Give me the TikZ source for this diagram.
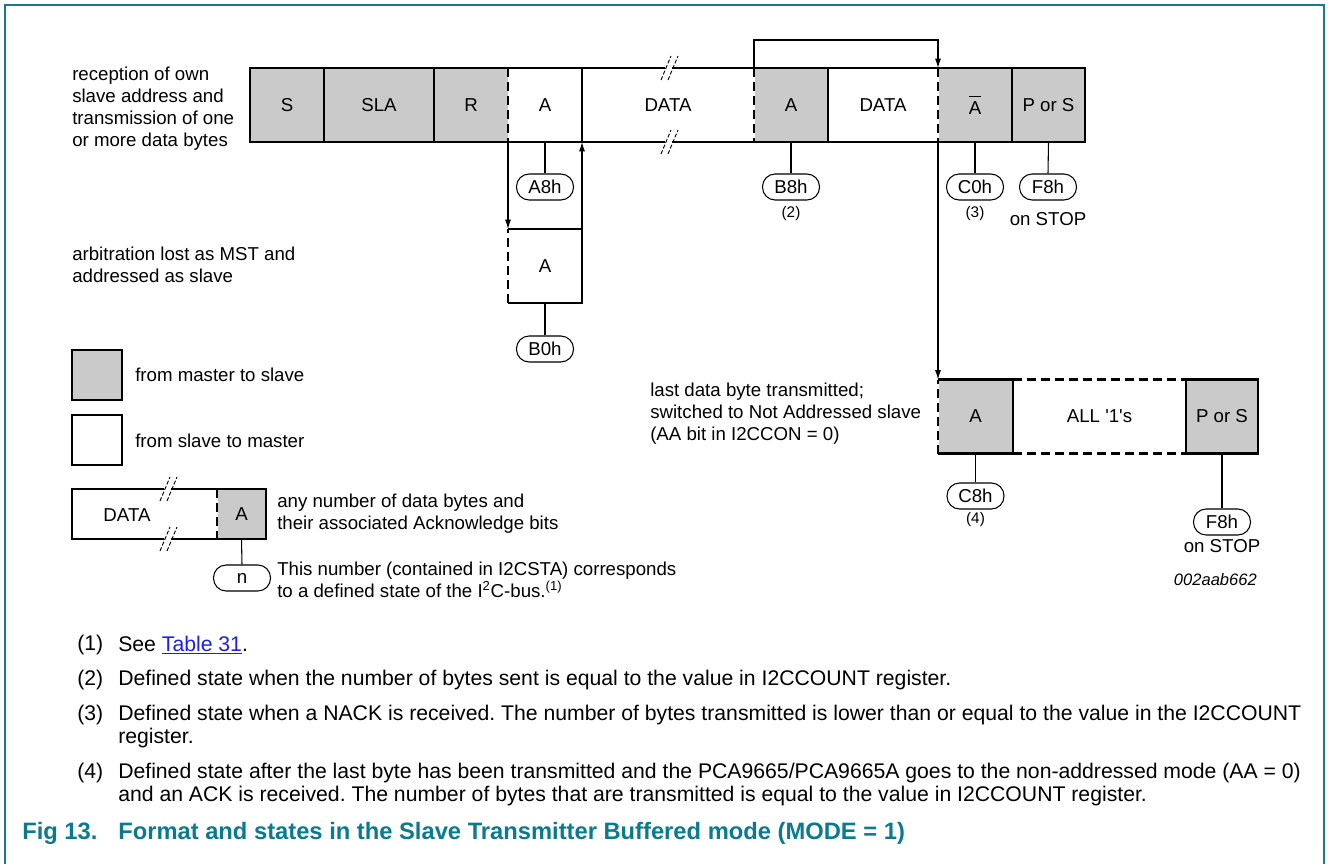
\documentclass[tikz,border=0pt]{standalone}
\usepackage{fontspec}
\setmainfont{Liberation Sans}[Ligatures=TeXOff]
\usepackage{xcolor}
\usepackage{tikz}
\usetikzlibrary{positioning, calc, arrows.meta}
\frenchspacing

\newcommand{\diag}{\fontsize{14}{16.5}\selectfont}
\newcommand{\nota}{\fontsize{11.5}{13}\selectfont}
\newcommand{\rodape}{\fontsize{15.9}{17.25}\selectfont}
% marca de quebra (//) sobre uma borda horizontal
\newcommand{\brkmark}[2]{%
  \draw[white, line width=3pt] (#1-3,#2) -- (#1+4,#2);
  \draw[line width=0.7pt, dash pattern=on 3pt off 1.5pt] (#1-7,#2+12) -- (#1+3,#2-12);
  \draw[line width=0.7pt, dash pattern=on 3pt off 1.5pt] (#1,#2+12) -- (#1+10,#2-12);
}

\begin{document}
\begin{tikzpicture}[x=0.75pt, y=-0.75pt, >={Latex[length=7pt, width=4.5pt]},
  gbox/.style={fill=cinza, minimum height=55.5pt, inner sep=0pt, outer sep=0pt, font=\diag},
  wbox/.style={fill=white, minimum height=55.5pt, inner sep=0pt, outer sep=0pt, font=\diag},
  estado/.style={draw, line width=0.8pt, rounded corners=9.5pt, minimum width=42.75pt, minimum height=19.5pt, inner sep=0pt, font=\diag},
  borda/.style={line width=2.1pt},
  tracejado/.style={line width=2.1pt, dash pattern=on 6.5pt off 4pt, preaction={draw=white, solid}},
  fio/.style={line width=0.8pt},
  txt/.style={font=\diag, align=left, inner sep=0pt, anchor=west}]
% --- CORES ---
\definecolor{cinza}{HTML}{CACACA}
\definecolor{moldura}{HTML}{1A7A8C}
\definecolor{legenda}{HTML}{0A7A8E}
\definecolor{link}{HTML}{1F1FE0}

\useasboundingbox (0,0) rectangle (1328,864);
\draw[moldura, line width=1.5pt] (5,864) -- (5,5) -- (1324,5) -- (1324,864);

% LAYER 1: Quadro principal (recepcao do endereco + dados)
\node[txt] at (72,109) {reception of own\\slave address and\\transmission of one\\or more data bytes};
\node[gbox, minimum width=55.5pt] (s) at (287,105) {S};
\node[gbox, minimum width=82.5pt, right=0pt of s] (sla) {SLA};
\node[gbox, minimum width=55.5pt, right=0pt of sla] (r) {R};
\node[wbox, minimum width=55.5pt, right=0pt of r] (a) {A};
\node[wbox, minimum width=129pt, right=0pt of a] (data) {DATA};
\node[gbox, minimum width=55.5pt, right=0pt of data] (ack) {A};
\node[wbox, minimum width=82.5pt, right=0pt of ack] (data2) {DATA};
\node[gbox, minimum width=55.5pt, right=0pt of data2] (nack) {$\overline{\mbox{A}\rule{0pt}{11.8pt}}$};
\node[gbox, minimum width=54.75pt, right=0pt of nack] (ps) {P or S};
\draw[borda] (s.north west) rectangle (ps.south east);
\draw[borda] (s.north east) -- (s.south east);
\draw[borda] (sla.north east) -- (sla.south east);
\draw[borda] (a.north east) -- (a.south east);
\draw[borda] (ack.north east) -- (ack.south east);
\draw[borda] (nack.north east) -- (nack.south east);
\draw[tracejado] (r.north east) -- (r.south east);
\draw[tracejado] (data.north east) -- (data.south east);
\draw[tracejado] (data2.north east) -- (data2.south east);
\brkmark{668}{68}
\brkmark{668}{142}

% LAYER 2: Estados (ovais)
\node[estado] (a8h) at (545,187) {A8h};
\node[estado] (b8h) at (791,187) {B8h};
\node[estado] (c0h) at (975,187) {C0h};
\node[estado] (f8h) at (1048,187) {F8h};
\draw[fio] (a.south) -- (a8h.north);
\draw[fio] (ack.south) -- (b8h.north);
\draw[fio] (nack.south) -- (c0h.north);
\draw[fio] (ps.south) -- (f8h.north);
\node[font=\nota] at (791,214) {(2)};
\node[font=\nota] at (975,214) {(3)};
\node[font=\diag] at (1048,219) {on STOP};

% LAYER 3: Arbitragem perdida
\node[txt] at (72,265) {arbitration lost as MST and\\addressed as slave};
\node[wbox, minimum width=55.5pt] (la) at (545,266) {A};
\draw[borda] (la.north west) -- (la.north east) -- (la.south east) -- (la.south west);
\draw[tracejado] (la.south west) -- (la.north west);
\draw[fio, ->] (a.south west) -- (la.north west);
\draw[fio, ->] (la.north east) -- (a.south east);
\node[estado] (b0h) at (545,349) {B0h};
\draw[fio] (la.south) -- (b0h.north);

% LAYER 4: Ultimo byte transmitido
\draw[fio, ->] (ack.north west) -- ++(0,-28) -| (nack.north west);
\node[txt] at (650,414) {last data byte transmitted;\\switched to Not Addressed slave\\(AA bit in I2CCON = 0)};
\node[gbox, minimum width=56.25pt] (la2) at (975.5,416.5) {A};
\node[wbox, minimum width=129.75pt, right=0pt of la2] (all) {ALL '1's};
\node[gbox, minimum width=54pt, right=0pt of all] (ps2) {P or S};
\draw[borda] (la2.north west) -- (la2.north east) -- (la2.south east) -- (la2.south west);
\draw[tracejado] (la2.south west) -- (la2.north west);
\draw[tracejado] (la2.north east) -- (ps2.north west);
\draw[tracejado] (la2.south east) -- (ps2.south west);
\draw[borda] (ps2.north west) rectangle (ps2.south east);
\draw[fio, ->] (nack.south west) -- (la2.north west);
\node[estado] (c8h) at (975.5,496) {C8h};
\node[estado] (f8h2) at (1222,522) {F8h};
\draw[fio] (la2.south) -- (c8h.north);
\draw[fio] (ps2.south) -- (f8h2.north);
\node[font=\nota] at (975.5,520) {(4)};
\node[font=\diag] at (1222,546) {on STOP};

% LAYER 5: Legenda
\node[gbox, draw, borda, minimum width=37.5pt, minimum height=37.5pt] (lg1) at (97,375) {};
\node[txt] at (135,375) {from master to slave};
\node[wbox, draw, borda, minimum width=37.5pt, minimum height=37.5pt] (lg2) at (97,440) {};
\node[txt] at (135,441) {from slave to master};
\node[wbox, minimum width=108.75pt, minimum height=37.5pt] (ldata) at (144.5,514) {};
\node[font=\diag] at (127,515) {DATA};
\node[gbox, minimum width=36.75pt, minimum height=37.5pt, right=0pt of ldata] (lack) {A};
\draw[borda] (ldata.north west) rectangle (lack.south east);
\draw[tracejado] (ldata.north east) -- (ldata.south east);
\brkmark{167}{489}
\brkmark{167}{539}
\node[txt] at (277,514) {any number of data bytes and\\their associated Acknowledge bits};
\node[estado] (n) at (242,578) {n};
\draw[fio] (lack.south) -- (n.north);
\node[txt] at (277,580) {This number (contained in I2CSTA) corresponds\\to a defined state of the I\textsuperscript{2}C-bus.\textsuperscript{(1)}};
\node[font=\fontsize{12.4}{14}\selectfont\itshape, anchor=east, inner sep=0pt] at (1257,580) {002aab662};

% LAYER 6: Notas de rodape e titulo
\node[font=\rodape, anchor=west, inner sep=0pt] at (77,645) {(1)};
\node[font=\rodape, anchor=west, inner sep=0pt] at (118,645) {See \textcolor{link}{\underline{Table 31}}.};
\node[font=\rodape, anchor=west, inner sep=0pt] at (77,680) {(2)};
\node[font=\rodape, anchor=west, inner sep=0pt] at (118,680) {Defined state when the number of bytes sent is equal to the value in I2CCOUNT register.};
\node[font=\rodape, anchor=west, inner sep=0pt] at (77,715) {(3)};
\node[font=\rodape, anchor=west, align=left, inner sep=0pt] at (118,726.5) {Defined state when a NACK is received. The number of bytes transmitted is lower than or equal to the value in the I2CCOUNT\\register.};
\node[font=\rodape, anchor=west, inner sep=0pt] at (77,773) {(4)};
\node[font=\rodape, anchor=west, align=left, inner sep=0pt] at (118,784.5) {Defined state after the last byte has been transmitted and the PCA9665/PCA9665A goes to the non-addressed mode (AA = 0)\\and an ACK is received. The number of bytes that are transmitted is equal to the value in I2CCOUNT register.};
\node[font=\fontsize{17.8}{20}\selectfont\bfseries, text=legenda, anchor=west, inner sep=0pt] at (22,833) {Fig 13.};
\node[font=\fontsize{17.8}{20}\selectfont\bfseries, text=legenda, anchor=west, inner sep=0pt] at (118,833) {Format and states in the Slave Transmitter Buffered mode (MODE = 1)};
\end{tikzpicture}
\end{document}
